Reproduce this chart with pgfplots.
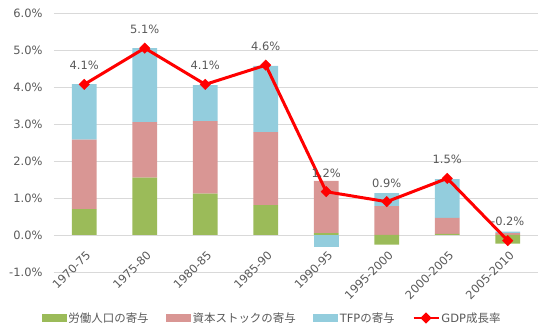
\documentclass[border=0pt]{standalone}
\usepackage{pgfplots}
\pgfplotsset{compat=1.18}
\usepackage{fontspec}
\setmainfont{DejaVu Sans}
\newfontfamily\cjk{Noto Sans CJK JP}
\definecolor{cgreen}{HTML}{9BBB59}
\definecolor{cpink}{HTML}{D99694}
\definecolor{cblue}{HTML}{93CDDD}
\definecolor{cgrid}{HTML}{D9D9D9}
\definecolor{ctext}{HTML}{595959}
\pgfplotsset{
  base/.style={
    scale only axis, width=484bp, height=259bp,
    xmin=-0.5, xmax=7.5, ymin=-1, ymax=6,
    at={(0,0)}, anchor=south west,
  },
  barstyle/.style={ybar stacked, bar width=24.7bp},
}
\begin{document}
\begin{tikzpicture}[font=\fontsize{11.5}{13.5}\selectfont]
% positive contributions, grid and labels
\begin{axis}[base, barstyle,
  axis line style={draw=none},
  major tick length=0pt,
  ymajorgrids, grid style={cgrid, line width=0.8bp},
  ytick={-1,0,1,2,3,4,5,6},
  xtick={0,1,2,3,4,5,6,7},
  xticklabels={1970-75,1975-80,1980-85,1985-90,1990-95,1995-2000,2000-2005,2005-2010},
  /pgf/number format/assume math mode=true,
  yticklabel={\pgfmathprintnumber[fixed,fixed zerofill,precision=1]{\tick}\%},
  tick label style={text=ctext, font=\fontsize{11.5}{13.5}\selectfont},
  yticklabel style={xshift=-8bp},
  xticklabel style={yshift=27bp, xshift=1bp, rotate=45, anchor=north east},
]
\addplot[fill=cgreen, draw=none] coordinates {(0,0.70) (1,1.55) (2,1.12) (3,0.81) (4,0.05) (5,0) (6,0.03) (7,0)};
\addplot[fill=cpink, draw=none] coordinates {(0,1.88) (1,1.50) (2,1.96) (3,1.97) (4,1.41) (5,0.78) (6,0.43) (7,0.05)};
\addplot[fill=cblue, draw=none] coordinates {(0,1.50) (1,2.00) (2,0.97) (3,1.79) (4,0) (5,0.35) (6,1.05) (7,0.04)};
\end{axis}
% negative contributions
\begin{axis}[base, barstyle, hide axis]
\addplot[fill=cgreen, draw=none] coordinates {(0,0) (1,0) (2,0) (3,0) (4,0) (5,-0.26) (6,0) (7,-0.23)};
\addplot[fill=cblue, draw=none] coordinates {(0,0) (1,0) (2,0) (3,0) (4,-0.32) (5,0) (6,0) (7,0)};
\end{axis}
% GDP growth line and legend
\begin{axis}[base, hide axis,
  legend columns=4,
  legend style={at={(-0.0248,-0.1776)}, anchor=west, draw=none, fill=none,
    inner sep=0pt, outer sep=0pt, text=ctext,
    font=\fontsize{11.5}{13.5}\selectfont,
    nodes={inner sep=1.5bp},
    /tikz/every even column/.append style={column sep=16bp}},
]
\addlegendimage{fill=cgreen, draw=none, legend image code/.code={\fill[cgreen] (0bp,-3.8bp) rectangle (25bp,3.8bp);}}
\addlegendentry{\cjk 労働人口の寄与}
\addlegendimage{fill=cpink, draw=none, legend image code/.code={\fill[cpink] (0bp,-3.8bp) rectangle (25bp,3.8bp);}}
\addlegendentry{\cjk 資本ストックの寄与}
\addlegendimage{fill=cblue, draw=none, legend image code/.code={\fill[cblue] (0bp,-3.8bp) rectangle (25bp,3.8bp);}}
\addlegendentry{TFP{\cjk の寄与}}
\addplot[red, line width=3bp, mark=square*, mark size=3.7bp,
  mark options={rotate=45, solid, line width=0.4bp},
  legend image code/.code={\draw[red, line width=2.8bp] (0bp,0bp) -- (25bp,0bp);
     \fill[red, rotate around={45:(12.5bp,0bp)}] (10bp,-2.5bp) rectangle (15bp,2.5bp);},
  point meta=explicit symbolic, nodes near coords,
  every node near coord/.style={anchor=south, yshift=11bp, text=ctext, font=\fontsize{11.5}{13.5}\selectfont}]
  coordinates {(0,4.07)[4.1\%] (1,5.05)[5.1\%] (2,4.07)[4.1\%] (3,4.59)[4.6\%] (4,1.17)[1.2\%] (5,0.90)[0.9\%] (6,1.53)[1.5\%] (7,-0.15)[-0.2\%]};
\addlegendentry{GDP{\cjk 成長率}}
\end{axis}
\pgfresetboundingbox
\path[use as bounding box] (-54bp,-62bp) rectangle (496bp,272bp);
\end{tikzpicture}
\end{document}
